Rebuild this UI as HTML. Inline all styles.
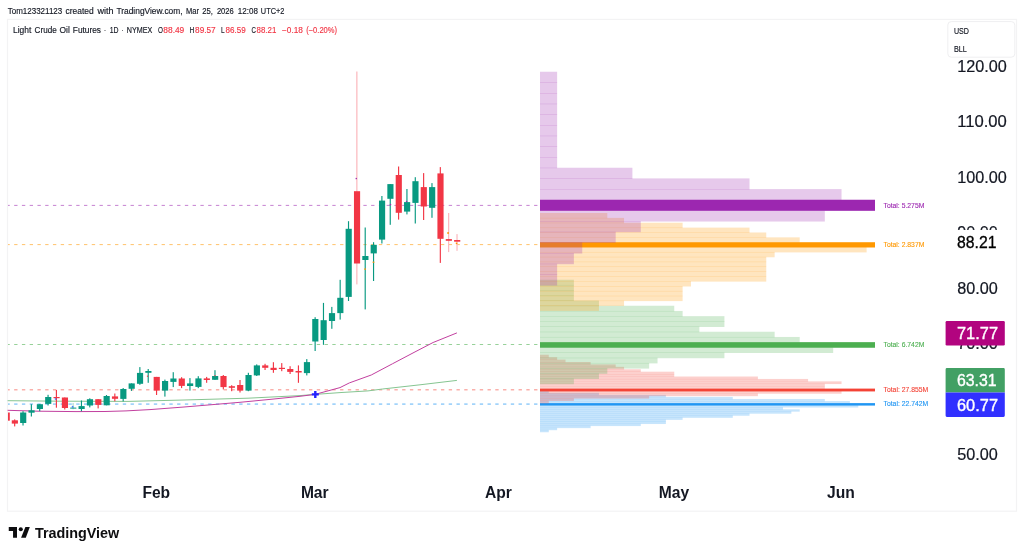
<!DOCTYPE html>
<html lang="en"><head><meta charset="utf-8"><title>Light Crude Oil Futures - TradingView</title>
<style>html,body{margin:0;padding:0;background:#fff}body{width:1024px;height:554px;overflow:hidden}svg{display:block}text{font-family:"Liberation Sans",sans-serif}</style>
</head><body>
<svg width="1024" height="554" viewBox="0 0 1024 554">
<rect width="1024" height="554" fill="#fff"/>
<text x="7.76" y="14.2" font-size="8.5" fill="#131722" stroke="#131722" stroke-width="0.15" textLength="54.49" lengthAdjust="spacingAndGlyphs">Tom123321123</text>
<text x="65.6" y="14.2" font-size="8.5" fill="#131722" stroke="#131722" stroke-width="0.15" textLength="28.15" lengthAdjust="spacingAndGlyphs">created</text>
<text x="97.4" y="14.2" font-size="8.5" fill="#131722" stroke="#131722" stroke-width="0.15" textLength="16.10" lengthAdjust="spacingAndGlyphs">with</text>
<text x="116.45" y="14.2" font-size="8.5" fill="#131722" stroke="#131722" stroke-width="0.15" textLength="66.15" lengthAdjust="spacingAndGlyphs">TradingView.com,</text>
<text x="186.1" y="14.2" font-size="8.5" fill="#131722" stroke="#131722" stroke-width="0.15" textLength="12.90" lengthAdjust="spacingAndGlyphs">Mar</text>
<text x="202.25" y="14.2" font-size="8.5" fill="#131722" stroke="#131722" stroke-width="0.15" textLength="10.75" lengthAdjust="spacingAndGlyphs">25,</text>
<text x="216.9" y="14.2" font-size="8.5" fill="#131722" stroke="#131722" stroke-width="0.15" textLength="16.85" lengthAdjust="spacingAndGlyphs">2026</text>
<text x="237.85" y="14.2" font-size="8.5" fill="#131722" stroke="#131722" stroke-width="0.15" textLength="20.05" lengthAdjust="spacingAndGlyphs">12:08</text>
<text x="260.85" y="14.2" font-size="8.5" fill="#131722" stroke="#131722" stroke-width="0.15" textLength="23.55" lengthAdjust="spacingAndGlyphs">UTC+2</text>
<rect x="7.5" y="19.4" width="1009" height="491.8" fill="#fff" stroke="#F3F3F4" stroke-width="1.2"/>
<text x="13" y="33.4" font-size="8.5" fill="#131722" stroke="#131722" stroke-width="0.15" textLength="18.25" lengthAdjust="spacingAndGlyphs">Light</text>
<text x="34.6" y="33.4" font-size="8.5" fill="#131722" stroke="#131722" stroke-width="0.15" textLength="22.10" lengthAdjust="spacingAndGlyphs">Crude</text>
<text x="59.5" y="33.4" font-size="8.5" fill="#131722" stroke="#131722" stroke-width="0.15" textLength="10.30" lengthAdjust="spacingAndGlyphs">Oil</text>
<text x="72.8" y="33.4" font-size="8.5" fill="#131722" stroke="#131722" stroke-width="0.15" textLength="28.20" lengthAdjust="spacingAndGlyphs">Futures</text>
<text x="104" y="33.4" font-size="8.5" fill="#131722" stroke="#131722" stroke-width="0.15" textLength="2.00" lengthAdjust="spacingAndGlyphs">·</text>
<text x="109.7" y="33.4" font-size="8.5" fill="#131722" stroke="#131722" stroke-width="0.15" textLength="8.80" lengthAdjust="spacingAndGlyphs">1D</text>
<text x="121.8" y="33.4" font-size="8.5" fill="#131722" stroke="#131722" stroke-width="0.15" textLength="1.80" lengthAdjust="spacingAndGlyphs">·</text>
<text x="126.8" y="33.4" font-size="8.5" fill="#131722" stroke="#131722" stroke-width="0.15" textLength="25.40" lengthAdjust="spacingAndGlyphs">NYMEX</text>
<text x="158" y="33.4" font-size="8.5" fill="#131722" stroke="#131722" stroke-width="0.15" textLength="4.95" lengthAdjust="spacingAndGlyphs">O</text>
<text x="163.3" y="33.4" font-size="8.5" fill="#F23645" stroke="#F23645" stroke-width="0.15" textLength="21.00" lengthAdjust="spacingAndGlyphs">88.49</text>
<text x="189.6" y="33.4" font-size="8.5" fill="#131722" stroke="#131722" stroke-width="0.15" textLength="4.80" lengthAdjust="spacingAndGlyphs">H</text>
<text x="195.1" y="33.4" font-size="8.5" fill="#F23645" stroke="#F23645" stroke-width="0.15" textLength="20.60" lengthAdjust="spacingAndGlyphs">89.57</text>
<text x="221" y="33.4" font-size="8.5" fill="#131722" stroke="#131722" stroke-width="0.15" textLength="3.65" lengthAdjust="spacingAndGlyphs">L</text>
<text x="225.6" y="33.4" font-size="8.5" fill="#F23645" stroke="#F23645" stroke-width="0.15" textLength="20.20" lengthAdjust="spacingAndGlyphs">86.59</text>
<text x="251.5" y="33.4" font-size="8.5" fill="#131722" stroke="#131722" stroke-width="0.15" textLength="4.40" lengthAdjust="spacingAndGlyphs">C</text>
<text x="256.6" y="33.4" font-size="8.5" fill="#F23645" stroke="#F23645" stroke-width="0.15" textLength="19.70" lengthAdjust="spacingAndGlyphs">88.21</text>
<text x="282" y="33.4" font-size="8.5" fill="#F23645" stroke="#F23645" stroke-width="0.15" textLength="20.90" lengthAdjust="spacingAndGlyphs">−0.18</text>
<text x="306.2" y="33.4" font-size="8.5" fill="#F23645" stroke="#F23645" stroke-width="0.15" textLength="30.80" lengthAdjust="spacingAndGlyphs">(−0.20%)</text>
<g fill="none" stroke-dasharray="3.35 4.41" stroke-dashoffset="1.6">
<line x1="8" y1="205.4" x2="540" y2="205.4" stroke="#9C27B0" stroke-width="1" stroke-opacity="0.58"/>
<line x1="8" y1="244.6" x2="540" y2="244.6" stroke="#FF9800" stroke-width="1" stroke-opacity="0.58"/>
<line x1="8" y1="344.5" x2="540" y2="344.5" stroke="#4CAF50" stroke-width="1" stroke-opacity="0.58"/>
<line x1="8" y1="389.75" x2="540" y2="389.75" stroke="#F44336" stroke-width="1.6" stroke-opacity="0.42"/>
<line x1="8" y1="404.1" x2="540" y2="404.1" stroke="#2196F3" stroke-width="1.6" stroke-opacity="0.42"/>
</g>
<g fill="#2196F3" fill-opacity="0.25">
<rect x="540" y="390.75" width="8.76" height="2.36"/>
<rect x="540" y="392.81" width="58.95" height="2.36"/>
<rect x="540" y="394.87" width="125.88" height="2.36"/>
<rect x="540" y="396.93" width="192.79" height="2.36"/>
<rect x="540" y="398.99" width="284.81" height="2.36"/>
<rect x="540" y="401.05" width="309.90" height="2.36"/>
<rect x="540" y="405.17" width="318.27" height="2.36"/>
<rect x="540" y="407.23" width="242.99" height="2.36"/>
<rect x="540" y="409.29" width="259.71" height="2.36"/>
<rect x="540" y="411.35" width="251.35" height="2.36"/>
<rect x="540" y="413.41" width="209.52" height="2.36"/>
<rect x="540" y="415.47" width="192.79" height="2.36"/>
<rect x="540" y="417.53" width="142.61" height="2.36"/>
<rect x="540" y="419.59" width="125.88" height="2.36"/>
<rect x="540" y="421.65" width="125.88" height="2.36"/>
<rect x="540" y="423.71" width="100.78" height="2.36"/>
<rect x="540" y="425.77" width="50.59" height="2.36"/>
<rect x="540" y="427.83" width="17.13" height="2.36"/>
<rect x="540" y="429.89" width="8.76" height="2.36"/>
</g>
<rect x="540" y="403.11" width="335" height="2.46" fill="#2196F3"/>
<g fill="#F44336" fill-opacity="0.25">
<rect x="540" y="354.75" width="8.76" height="2.72"/>
<rect x="540" y="357.17" width="17.13" height="2.72"/>
<rect x="540" y="359.59" width="25.50" height="2.72"/>
<rect x="540" y="362.00" width="50.59" height="2.72"/>
<rect x="540" y="364.42" width="75.68" height="2.72"/>
<rect x="540" y="366.84" width="84.05" height="2.72"/>
<rect x="540" y="369.26" width="100.78" height="2.72"/>
<rect x="540" y="371.68" width="134.24" height="2.72"/>
<rect x="540" y="374.09" width="134.24" height="2.72"/>
<rect x="540" y="376.51" width="217.89" height="2.72"/>
<rect x="540" y="378.93" width="268.08" height="2.72"/>
<rect x="540" y="381.35" width="301.54" height="2.72"/>
<rect x="540" y="383.77" width="284.81" height="2.72"/>
<rect x="540" y="386.18" width="284.81" height="2.72"/>
<rect x="540" y="391.02" width="301.54" height="2.72"/>
<rect x="540" y="393.44" width="217.89" height="2.72"/>
<rect x="540" y="395.86" width="109.14" height="2.72"/>
<rect x="540" y="398.27" width="33.86" height="2.72"/>
<rect x="540" y="400.69" width="8.76" height="2.72"/>
</g>
<rect x="540" y="388.60" width="335" height="2.82" fill="#F44336"/>
<g fill="#4CAF50" fill-opacity="0.25">
<rect x="540" y="279.75" width="33.86" height="5.65"/>
<rect x="540" y="284.95" width="33.86" height="5.65"/>
<rect x="540" y="290.15" width="33.86" height="5.65"/>
<rect x="540" y="295.35" width="33.86" height="5.65"/>
<rect x="540" y="300.55" width="58.95" height="5.65"/>
<rect x="540" y="305.75" width="134.24" height="5.65"/>
<rect x="540" y="310.95" width="142.61" height="5.65"/>
<rect x="540" y="316.15" width="184.43" height="5.65"/>
<rect x="540" y="321.35" width="184.43" height="5.65"/>
<rect x="540" y="326.55" width="159.34" height="5.65"/>
<rect x="540" y="331.75" width="234.62" height="5.65"/>
<rect x="540" y="336.95" width="259.71" height="5.65"/>
<rect x="540" y="347.35" width="293.17" height="5.65"/>
<rect x="540" y="352.55" width="184.43" height="5.65"/>
<rect x="540" y="357.75" width="117.51" height="5.65"/>
<rect x="540" y="362.95" width="109.14" height="5.65"/>
<rect x="540" y="368.15" width="67.32" height="5.65"/>
<rect x="540" y="373.35" width="58.95" height="5.65"/>
<rect x="540" y="378.55" width="33.86" height="5.65"/>
</g>
<rect x="540" y="342.15" width="335" height="5.60" fill="#4CAF50"/>
<g fill="#FF9800" fill-opacity="0.25">
<rect x="540" y="213.00" width="67.32" height="5.32"/>
<rect x="540" y="217.87" width="84.05" height="5.32"/>
<rect x="540" y="222.74" width="142.61" height="5.32"/>
<rect x="540" y="227.61" width="209.52" height="5.32"/>
<rect x="540" y="232.48" width="226.25" height="5.32"/>
<rect x="540" y="237.35" width="259.71" height="5.32"/>
<rect x="540" y="247.09" width="326.63" height="5.32"/>
<rect x="540" y="251.96" width="234.62" height="5.32"/>
<rect x="540" y="256.83" width="226.25" height="5.32"/>
<rect x="540" y="261.70" width="226.25" height="5.32"/>
<rect x="540" y="266.57" width="226.25" height="5.32"/>
<rect x="540" y="271.44" width="226.25" height="5.32"/>
<rect x="540" y="276.31" width="226.25" height="5.32"/>
<rect x="540" y="281.18" width="150.97" height="5.32"/>
<rect x="540" y="286.05" width="142.61" height="5.32"/>
<rect x="540" y="290.92" width="142.61" height="5.32"/>
<rect x="540" y="295.79" width="142.61" height="5.32"/>
<rect x="540" y="300.66" width="84.05" height="5.32"/>
<rect x="540" y="305.53" width="58.95" height="5.32"/>
</g>
<rect x="540" y="242.22" width="335" height="5.27" fill="#FF9800"/>
<g fill="#9C27B0" fill-opacity="0.25">
<rect x="540" y="71.75" width="17.13" height="11.12"/>
<rect x="540" y="82.42" width="17.13" height="11.12"/>
<rect x="540" y="93.08" width="17.13" height="11.12"/>
<rect x="540" y="103.75" width="17.13" height="11.12"/>
<rect x="540" y="114.42" width="17.13" height="11.12"/>
<rect x="540" y="125.09" width="17.13" height="11.12"/>
<rect x="540" y="135.75" width="17.13" height="11.12"/>
<rect x="540" y="146.42" width="17.13" height="11.12"/>
<rect x="540" y="157.09" width="17.13" height="11.12"/>
<rect x="540" y="167.75" width="92.41" height="11.12"/>
<rect x="540" y="178.42" width="209.52" height="11.12"/>
<rect x="540" y="189.09" width="301.54" height="11.12"/>
<rect x="540" y="210.42" width="284.81" height="11.12"/>
<rect x="540" y="221.09" width="100.78" height="11.12"/>
<rect x="540" y="231.75" width="75.68" height="11.12"/>
<rect x="540" y="242.42" width="42.23" height="11.12"/>
<rect x="540" y="253.09" width="33.86" height="11.12"/>
<rect x="540" y="263.76" width="17.13" height="11.12"/>
<rect x="540" y="274.42" width="17.13" height="11.12"/>
</g>
<rect x="540" y="199.75" width="335" height="11.07" fill="#9C27B0"/>
<text x="883.5" y="208.00" font-size="7.4" fill="#9C27B0" stroke="#9C27B0" stroke-width="0.12" textLength="40.85" lengthAdjust="spacingAndGlyphs">Total: 5.275M</text>
<text x="883.5" y="247.20" font-size="7.4" fill="#FF9800" stroke="#FF9800" stroke-width="0.12" textLength="40.85" lengthAdjust="spacingAndGlyphs">Total: 2.837M</text>
<text x="883.5" y="346.90" font-size="7.4" fill="#4CAF50" stroke="#4CAF50" stroke-width="0.12" textLength="40.85" lengthAdjust="spacingAndGlyphs">Total: 6.742M</text>
<text x="883.5" y="392.00" font-size="7.4" fill="#F44336" stroke="#F44336" stroke-width="0.12" textLength="44.800000000000004" lengthAdjust="spacingAndGlyphs">Total: 27.855M</text>
<text x="883.5" y="406.10" font-size="7.4" fill="#2196F3" stroke="#2196F3" stroke-width="0.12" textLength="44.800000000000004" lengthAdjust="spacingAndGlyphs">Total: 22.742M</text>
<polyline fill="none" stroke="#86C591" stroke-width="1" points="7.6,400.7 60,401.2 128,401.4 184,400 248,398.2 300,395.6 315,394.4 340,392.6 368,390.9 382.5,389 420,384.8 456.9,380.4"/>
<polyline fill="none" stroke="#C2409F" stroke-width="1" points="7.6,410.3 38,411.2 76,411.6 105,411.5 126,410.9 150,409.6 184,407 208,405 240,402.3 270,399.4 300,396.3 315,394.4 340,387.6 349.4,382.9 371.25,375 392.5,363.75 415,351.9 433.1,342.5 456.9,332.9"/>
<g shape-rendering="auto">
<rect x="8" y="412.5" width="1.8" height="8.20" fill="#F23645"/>
<rect x="14.10" y="419.4" width="1.15" height="7.00" fill="#F23645"/>
<rect x="11.77" y="420.3" width="6.16" height="3.30" fill="#F23645"/>
<rect x="22.45" y="411.2" width="1.15" height="14.30" fill="#089981"/>
<rect x="20.12" y="412.5" width="6.16" height="10.50" fill="#089981"/>
<rect x="30.79" y="404.2" width="1.15" height="12.30" fill="#089981"/>
<rect x="28.46" y="410.3" width="6.16" height="2.40" fill="#089981"/>
<rect x="39.14" y="404.2" width="1.15" height="7.00" fill="#089981"/>
<rect x="36.81" y="404.2" width="6.16" height="4.80" fill="#089981"/>
<rect x="47.48" y="394.8" width="1.15" height="10.70" fill="#089981"/>
<rect x="45.15" y="397" width="6.16" height="6.90" fill="#089981"/>
<rect x="55.83" y="390" width="1.15" height="17.70" fill="#F23645"/>
<rect x="53.50" y="397" width="6.16" height="1.20" fill="#F23645"/>
<rect x="64.18" y="397.5" width="1.15" height="12.00" fill="#F23645"/>
<rect x="61.85" y="397.5" width="6.16" height="10.50" fill="#F23645"/>
<rect x="72.52" y="403" width="1.15" height="6.30" fill="#A6D9CF"/>
<rect x="70.19" y="407.6" width="6.16" height="1.00" fill="#089981"/>
<rect x="80.87" y="400.5" width="1.15" height="10.70" fill="#089981"/>
<rect x="78.54" y="406.1" width="6.16" height="2.90" fill="#089981"/>
<rect x="89.21" y="398.3" width="1.15" height="9.10" fill="#089981"/>
<rect x="86.88" y="399.2" width="6.16" height="6.30" fill="#089981"/>
<rect x="97.56" y="399.2" width="1.15" height="9.20" fill="#F23645"/>
<rect x="95.23" y="399.2" width="6.16" height="5.70" fill="#F23645"/>
<rect x="105.91" y="395" width="1.15" height="10.30" fill="#089981"/>
<rect x="103.58" y="396" width="6.16" height="9.30" fill="#089981"/>
<rect x="114.25" y="393.5" width="1.15" height="7.80" fill="#F23645"/>
<rect x="111.92" y="396.4" width="6.16" height="2.40" fill="#F23645"/>
<rect x="122.60" y="388" width="1.15" height="13.40" fill="#089981"/>
<rect x="120.27" y="389" width="6.16" height="9.90" fill="#089981"/>
<rect x="130.94" y="383.4" width="1.15" height="7.50" fill="#089981"/>
<rect x="128.61" y="383.4" width="6.16" height="5.40" fill="#089981"/>
<rect x="139.29" y="367.1" width="1.15" height="17.70" fill="#089981"/>
<rect x="136.96" y="372.9" width="6.16" height="10.90" fill="#089981"/>
<rect x="147.64" y="369" width="1.15" height="13.80" fill="#089981"/>
<rect x="145.31" y="371" width="6.16" height="1.80" fill="#089981"/>
<rect x="155.98" y="376.9" width="1.15" height="18.10" fill="#F23645"/>
<rect x="153.65" y="376.9" width="6.16" height="13.70" fill="#F23645"/>
<rect x="164.33" y="379.6" width="1.15" height="17.00" fill="#089981"/>
<rect x="162.00" y="381" width="6.16" height="9.60" fill="#089981"/>
<rect x="172.67" y="372.2" width="1.15" height="14.90" fill="#089981"/>
<rect x="170.34" y="378.5" width="6.16" height="3.40" fill="#089981"/>
<rect x="181.02" y="377.2" width="1.15" height="10.90" fill="#F23645"/>
<rect x="178.69" y="378.5" width="6.16" height="7.40" fill="#F23645"/>
<rect x="189.37" y="378.1" width="1.15" height="12.50" fill="#089981"/>
<rect x="187.04" y="383.4" width="6.16" height="2.60" fill="#089981"/>
<rect x="197.71" y="376.2" width="1.15" height="11.90" fill="#089981"/>
<rect x="195.38" y="378.4" width="6.16" height="8.50" fill="#089981"/>
<rect x="206.06" y="376.9" width="1.15" height="5.90" fill="#F23645"/>
<rect x="203.73" y="378.4" width="6.16" height="1.60" fill="#F23645"/>
<rect x="214.40" y="370.2" width="1.15" height="9.60" fill="#089981"/>
<rect x="212.07" y="376" width="6.16" height="3.80" fill="#089981"/>
<rect x="222.75" y="375" width="1.15" height="14.40" fill="#F23645"/>
<rect x="220.42" y="376" width="6.16" height="11.10" fill="#F23645"/>
<rect x="231.10" y="385.2" width="1.15" height="6.00" fill="#F23645"/>
<rect x="228.77" y="386.2" width="6.16" height="1.60" fill="#F23645"/>
<rect x="239.44" y="380" width="1.15" height="12.50" fill="#F23645"/>
<rect x="237.11" y="385" width="6.16" height="5.60" fill="#F23645"/>
<rect x="247.79" y="372.8" width="1.15" height="18.40" fill="#089981"/>
<rect x="245.46" y="375" width="6.16" height="15.60" fill="#089981"/>
<rect x="256.13" y="364.4" width="1.15" height="11.60" fill="#089981"/>
<rect x="253.80" y="365.4" width="6.16" height="10.00" fill="#089981"/>
<rect x="264.48" y="363.8" width="1.15" height="6.20" fill="#F23645"/>
<rect x="262.15" y="365.4" width="6.16" height="2.40" fill="#F23645"/>
<rect x="272.83" y="362.2" width="1.15" height="10.60" fill="#F23645"/>
<rect x="270.50" y="367.8" width="6.16" height="2.20" fill="#F23645"/>
<rect x="281.17" y="363.1" width="1.15" height="8.10" fill="#F23645"/>
<rect x="278.84" y="367.8" width="6.16" height="1.20" fill="#F23645"/>
<rect x="289.52" y="366.2" width="1.15" height="7.80" fill="#F23645"/>
<rect x="287.19" y="369" width="6.16" height="2.90" fill="#F23645"/>
<rect x="297.86" y="365.4" width="1.15" height="17.40" fill="#F23645"/>
<rect x="295.53" y="371" width="6.16" height="1.50" fill="#F23645"/>
<rect x="306.21" y="359.1" width="1.15" height="16.30" fill="#089981"/>
<rect x="303.88" y="362.1" width="6.16" height="11.00" fill="#089981"/>
<rect x="314.56" y="317.2" width="1.15" height="33.80" fill="#089981"/>
<rect x="312.23" y="319" width="6.16" height="22.50" fill="#089981"/>
<rect x="322.90" y="302.9" width="1.15" height="41.90" fill="#089981"/>
<rect x="320.57" y="320.2" width="6.16" height="19.80" fill="#089981"/>
<rect x="331.25" y="306.9" width="1.15" height="21.90" fill="#089981"/>
<rect x="328.92" y="313.1" width="6.16" height="7.90" fill="#089981"/>
<rect x="339.59" y="279.8" width="1.15" height="39.80" fill="#089981"/>
<rect x="337.26" y="297.8" width="6.16" height="15.30" fill="#089981"/>
<rect x="347.94" y="221.2" width="1.15" height="79.80" fill="#089981"/>
<rect x="345.61" y="228.8" width="6.16" height="68.10" fill="#089981"/>
<rect x="356.29" y="71.5" width="1.15" height="212.90" fill="#FBB4BA"/>
<rect x="353.96" y="191.2" width="6.16" height="72.30" fill="#F23645"/>
<rect x="364.63" y="227.5" width="1.15" height="81.90" fill="#089981"/>
<rect x="362.30" y="256" width="6.16" height="4.00" fill="#089981"/>
<rect x="372.98" y="242.2" width="1.15" height="38.80" fill="#089981"/>
<rect x="370.65" y="244.8" width="6.16" height="8.60" fill="#089981"/>
<rect x="381.32" y="196" width="1.15" height="47.50" fill="#089981"/>
<rect x="378.99" y="200.6" width="6.16" height="39.00" fill="#089981"/>
<rect x="389.67" y="184.1" width="1.15" height="40.70" fill="#089981"/>
<rect x="387.34" y="184.1" width="6.16" height="14.70" fill="#089981"/>
<rect x="398.02" y="166.5" width="1.15" height="53.10" fill="#F23645"/>
<rect x="395.69" y="175" width="6.16" height="37.80" fill="#F23645"/>
<rect x="406.36" y="189" width="1.15" height="25.40" fill="#089981"/>
<rect x="404.03" y="202.1" width="6.16" height="9.50" fill="#089981"/>
<rect x="414.71" y="177.2" width="1.15" height="46.30" fill="#089981"/>
<rect x="412.38" y="181.2" width="6.16" height="21.70" fill="#089981"/>
<rect x="423.05" y="173.1" width="1.15" height="46.90" fill="#F23645"/>
<rect x="420.72" y="187.1" width="6.16" height="19.40" fill="#F23645"/>
<rect x="431.40" y="183.1" width="1.15" height="34.70" fill="#089981"/>
<rect x="429.07" y="187.1" width="6.16" height="20.70" fill="#089981"/>
<rect x="439.75" y="167.1" width="1.15" height="95.80" fill="#F23645"/>
<rect x="437.42" y="173.4" width="6.16" height="65.40" fill="#F23645"/>
<rect x="448.09" y="213" width="1.15" height="39.10" fill="#FBB4BA"/>
<rect x="445.76" y="239.1" width="6.16" height="1.70" fill="#F23645"/>
<rect x="456.44" y="234.1" width="1.15" height="16.70" fill="#FBB4BA"/>
<rect x="454.11" y="240" width="6.16" height="1.70" fill="#F23645"/>
</g>
<path d="M311.8 394.4H318.8M315.3 390.9V397.9" stroke="#2222FF" stroke-width="2.4" fill="none"/>
<g fill="#2962FF" fill-opacity="0.8"><rect x="54.8" y="398.2" width="1.6" height="1.6"/><rect x="71.8" y="406" width="1.6" height="1.6"/></g>
<g fill="#FF9800"><rect x="364.3" y="268.4" width="1.6" height="1.4"/><rect x="372.6" y="261.6" width="1.8" height="1.2"/><rect x="447.2" y="232.2" width="1.8" height="1.6"/><rect x="455.8" y="242.6" width="1.6" height="1.4"/></g>
<g fill="#9C27B0"><rect x="355.6" y="177.9" width="1.3" height="1.3"/><rect x="389.8" y="204" width="1.4" height="1.2"/><rect x="405.9" y="200.9" width="1.3" height="1.2"/></g>
<g fill="#F23645"><rect x="146.9" y="375.6" width="1.2" height="1.2"/><rect x="214.4" y="375.2" width="1.2" height="1"/></g>
<g font-size="16" fill="#131722" stroke="#131722" stroke-width="0.2">
<text x="957.2" y="71.50" textLength="49.6" lengthAdjust="spacingAndGlyphs">120.00</text>
<text x="957.2" y="127.01" textLength="49.6" lengthAdjust="spacingAndGlyphs">110.00</text>
<text x="957.2" y="182.52" textLength="49.6" lengthAdjust="spacingAndGlyphs">100.00</text>
<text x="957.2" y="238.03" textLength="40.6" lengthAdjust="spacingAndGlyphs">90.00</text>
<text x="957.2" y="293.54" textLength="40.6" lengthAdjust="spacingAndGlyphs">80.00</text>
<text x="957.2" y="349.05" textLength="40.6" lengthAdjust="spacingAndGlyphs">70.00</text>
<text x="957.2" y="460.07" textLength="40.6" lengthAdjust="spacingAndGlyphs">50.00</text>
</g>
<rect x="946" y="229.9" width="59" height="24.4" fill="#fff"/>
<text x="957" y="247.8" font-size="16" fill="#000" stroke="#000" stroke-width="0.3" textLength="39.4" lengthAdjust="spacingAndGlyphs">88.21</text>
<rect x="945.6" y="321" width="59.2" height="24.6" rx="1.3" fill="#B2047F"/>
<text x="957" y="339.3" font-size="16" fill="#fff" stroke="#fff" stroke-width="0.35" textLength="41" lengthAdjust="spacingAndGlyphs">71.77</text>
<path d="M946.9 368.1H1003.5a1.3 1.3 0 0 1 1.3 1.3V392.5H945.6V369.4a1.3 1.3 0 0 1 1.3-1.3z" fill="#42A064"/>
<text x="957" y="386.2" font-size="16" fill="#fff" stroke="#fff" stroke-width="0.35" textLength="39.6" lengthAdjust="spacingAndGlyphs">63.31</text>
<path d="M945.6 392.5H1004.8V415.6a1.3 1.3 0 0 1-1.3 1.3H946.9a1.3 1.3 0 0 1-1.3-1.3z" fill="#3130FF"/>
<text x="957" y="410.6" font-size="16" fill="#fff" stroke="#fff" stroke-width="0.35" textLength="41" lengthAdjust="spacingAndGlyphs">60.77</text>
<rect x="947.8" y="21.6" width="67" height="35.6" rx="3.5" fill="#fff" stroke="#EFEFF1" stroke-width="1"/>
<text x="953.9" y="33.5" font-size="8.6" fill="#131722" stroke="#131722" stroke-width="0.15" textLength="15" lengthAdjust="spacingAndGlyphs">USD</text>
<text x="953.9" y="52.2" font-size="8.6" fill="#131722" stroke="#131722" stroke-width="0.15" textLength="13" lengthAdjust="spacingAndGlyphs">BLL</text>
<g font-size="15.6" font-weight="bold" fill="#131722" text-anchor="middle">
<text x="156.25" y="497.5">Feb</text>
<text x="314.75" y="497.5">Mar</text>
<text x="498.5" y="497.5">Apr</text>
<text x="674" y="497.5">May</text>
<text x="840.9" y="497.5">Jun</text>
</g>
<g fill="#0E0E10"><path d="M8.76 527.1H17V537.8H13.05V531H8.76z"/><circle cx="20.77" cy="529.2" r="2.05"/><path d="M25.4 527.1H29.8L25.8 537.8H21.06z"/></g>
<text x="34.9" y="537.8" font-size="14.6" font-weight="bold" fill="#0E0E10" textLength="84.4" lengthAdjust="spacingAndGlyphs">TradingView</text>
</svg>
</body></html>
